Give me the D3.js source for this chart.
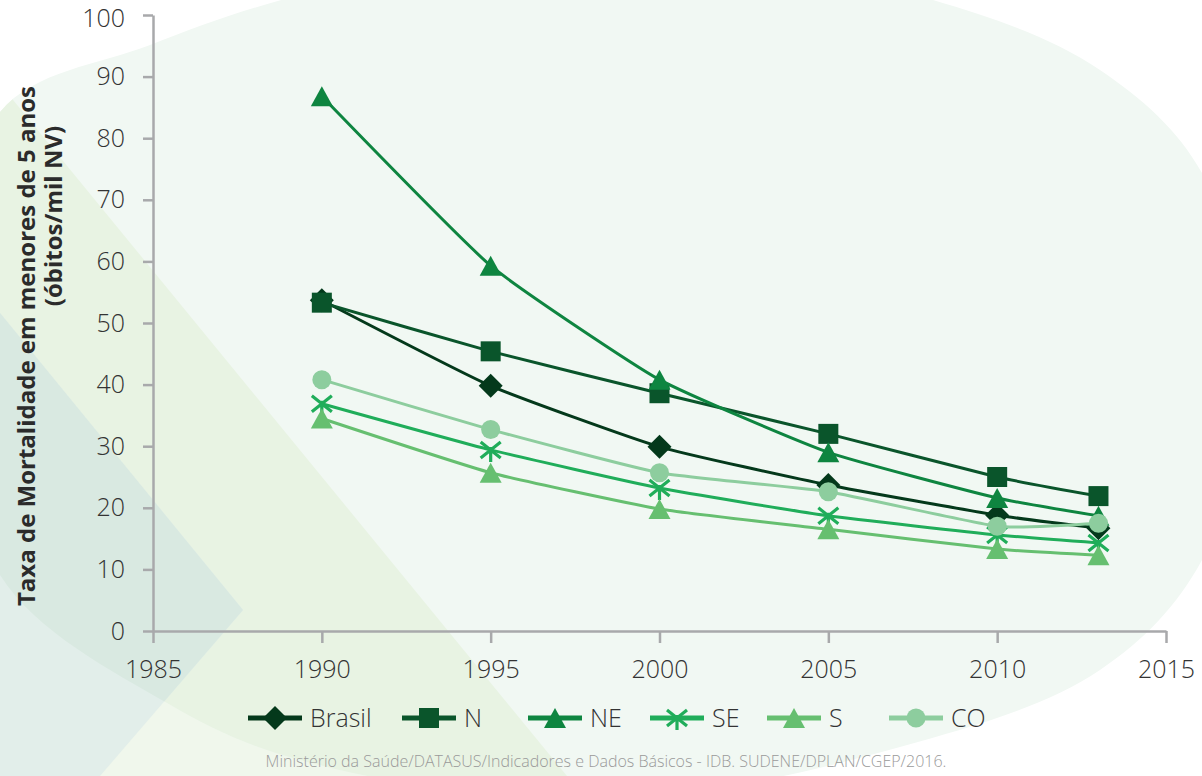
<!DOCTYPE html>
<html>
<head>
<meta charset="utf-8">
<script src="https://cdn.jsdelivr.net/npm/d3@7"></script>
<style>
  body { margin: 0; background: #fff; }
  svg text { font-family: "Open Sans", "Noto Sans", sans-serif; }
</style>
</head>
<body>
<svg id="chart"></svg>
<script>
// Data
const years = [1990, 1995, 2000, 2005, 2010, 2013];
const brasil = [53.7, 39.8, 29.9, 23.7, 18.8, 16.7];
const norte = [53.3, 45.4, 38.6, 32.0, 25.0, 21.9];
const nordeste = [86.8, 59.3, 40.8, 29.0, 21.6, 18.7];
const sudeste = [36.9, 29.4, 23.2, 18.7, 15.6, 14.3];
const sul = [34.5, 25.7, 19.8, 16.5, 13.3, 12.3];
const centroOeste = [40.8, 32.7, 25.7, 22.6, 17.0, 17.5];

const seriesNames = ["Brasil", "N", "NE", "SE", "S", "CO"];
const seriesValues = [brasil, norte, nordeste, sudeste, sul, centroOeste];
const seriesColors = ["#04391b", "#0a552b", "#0e8540", "#20ad5a", "#66bf70", "#8dcd9e"];
const seriesMarkers = ["diamond", "square", "triangle", "star", "triangle", "circle"];

const xTicks = [1985, 1990, 1995, 2000, 2005, 2010, 2015];
const yTicks = [0, 10, 20, 30, 40, 50, 60, 70, 80, 90, 100];

const yTitle1 = "Taxa de Mortalidade em menores de 5 anos";
const yTitle2 = "(óbitos/mil NV)";
const source = "Ministério da Saúde/DATASUS/Indicadores e Dados Básicos - IDB. SUDENE/DPLAN/CGEP/2016.";

const FONT = '"Open Sans", "Noto Sans", sans-serif';
const width = 1202;
const height = 776;

const svg = d3.select("#chart")
  .attr("width", width)
  .attr("height", height);

// ---- decorative background ----
const blob = [[-50,340],[0,112],[150,45],[300,-5],[600,-60],[933,0],[1100,70],[1202,173],
  [1250,366],[1202,560],[1100,670],[900,747],[600,800],[300,760],[167,703],[0,575]];
const blobPath = d3.line().curve(d3.curveCatmullRomClosed)(blob);

const defs = svg.append("defs");
defs.append("clipPath").attr("id", "ell")
  .append("path").attr("d", blobPath);

const band = "M0,84 L567,776 L0,776 Z";
const bandLow = "M0,400 L259,400 L567,776 L0,776 Z";
const diamondBg = "M0,313 L243,610 L100,776 L0,776 Z";

svg.append("rect").attr("width", width).attr("height", height).attr("fill", "#fff");
svg.append("path").attr("d", bandLow).attr("fill", "#f0f7ec");
svg.append("path").attr("d", blobPath).attr("fill", "#f1f8f3");
svg.append("path").attr("d", band).attr("fill", "#e8f3e3").attr("clip-path", "url(#ell)");
svg.append("path").attr("d", diamondBg).attr("fill", "#e2eeea");
svg.append("path").attr("d", diamondBg).attr("fill", "#d9e9e1").attr("clip-path", "url(#ell)");

// ---- scales ----
const x = d3.scaleLinear().domain([1985, 2015]).range([153, 1166]);
const y = d3.scaleLinear().domain([0, 100]).range([631, 15]);

// ---- axes ----
const gy = svg.append("g")
  .attr("transform", `translate(${x(1985)},0)`)
  .call(d3.axisLeft(y).tickValues(yTicks).tickSize(10).tickSizeOuter(0).tickPadding(18));

const gx = svg.append("g")
  .attr("transform", `translate(0,${y(0)})`)
  .call(d3.axisBottom(x).tickValues(xTicks).tickFormat(d3.format("d")).tickSize(12).tickSizeOuter(0).tickPadding(17));

[gx, gy].forEach(g => {
  g.attr("font-family", FONT);
  g.selectAll("path.domain, line")
    .attr("stroke", "#a8a9ab")
    .attr("stroke-width", 2.5);
  g.selectAll("text")
    .attr("fill", "#333")
    .style("font-size", "25px")
    .style("font-weight", 300);
});
// keep the top label inside the frame
gy.selectAll(".tick text").filter(d => d === 100).attr("dy", "0.36em").attr("y", 2);

// y axis title
svg.append("text")
  .attr("transform", "translate(35,346) rotate(-90)")
  .attr("text-anchor", "middle")
  .style("font-size", "24px")
  .style("font-weight", 700)
  .attr("fill", "#2b2b2b")
  .text(yTitle1);
svg.append("text")
  .attr("transform", "translate(62,216) rotate(-90)")
  .attr("text-anchor", "middle")
  .style("font-size", "24px")
  .style("font-weight", 700)
  .attr("fill", "#2b2b2b")
  .text(yTitle2);

// ---- markers ----
function drawMarker(g, type, color) {
  if (type === "diamond") {
    g.append("path").attr("d", "M0,-12 L12,0 L0,12 L-12,0 Z").attr("fill", color);
  } else if (type === "square") {
    g.append("rect").attr("x", -10).attr("y", -10).attr("width", 20).attr("height", 20).attr("fill", color);
  } else if (type === "triangle") {
    g.append("path").attr("d", "M0,-10 L11,10 L-11,10 Z").attr("fill", color);
  } else if (type === "circle") {
    g.append("circle").attr("r", 9.5).attr("fill", color);
  } else if (type === "star") {
    g.append("path")
      .attr("d", "M-10,-8 L10,8 M10,-8 L-10,8 M0,-3 L0,12")
      .attr("stroke", color).attr("stroke-width", 3.2).attr("fill", "none");
  }
}

// ---- lines ----
const line = d3.line()
  .x((d, i) => x(years[i]))
  .y(d => y(d))
  .curve(d3.curveCardinal.tension(0.55));

const plot = svg.append("g");
seriesValues.forEach((vals, k) => {
  const g = plot.append("g");
  g.append("path")
    .attr("d", line(vals))
    .attr("fill", "none")
    .attr("stroke", seriesColors[k])
    .attr("stroke-width", 3);
  vals.forEach((v, i) => {
    const m = g.append("g").attr("transform", `translate(${x(years[i])},${y(v)})`);
    drawMarker(m, seriesMarkers[k], seriesColors[k]);
  });
});

// ---- legend ----
const legendStarts = [248, 402, 528, 650, 767, 889];
const legend = svg.append("g").attr("transform", "translate(0,718)");
seriesNames.forEach((name, k) => {
  const g = legend.append("g").attr("transform", `translate(${legendStarts[k]},0)`);
  g.append("line")
    .attr("x1", 0).attr("x2", 54)
    .attr("stroke", seriesColors[k]).attr("stroke-width", 5);
  const m = g.append("g").attr("transform", "translate(27,0)");
  drawMarker(m, seriesMarkers[k], seriesColors[k]);
  g.append("text")
    .attr("x", 62).attr("dy", "0.35em")
    .attr("fill", "#333")
    .style("font-size", "25px")
    .style("font-weight", 300)
    .text(name);
});

// ---- source ----
svg.append("text")
  .attr("x", 606).attr("y", 767)
  .attr("text-anchor", "middle")
  .attr("fill", "#9a9a9a")
  .style("font-size", "16px")
  .style("font-weight", 300)
  .text(source);
</script>
</body>
</html>
